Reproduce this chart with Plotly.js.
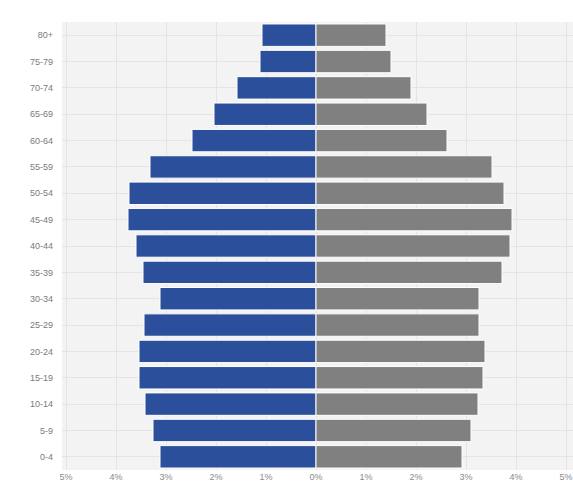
<!DOCTYPE html>
<html>
<head>
<meta charset="utf-8">
<script src="https://cdn.plot.ly/plotly-3.0.1.min.js"></script>
<style>html,body{margin:0;padding:0;background:#fff;overflow:hidden;}#chart{width:573px;height:503px;}</style>
</head>
<body>
<div id="chart"></div>
<script>
const ageGroups = ["0-4","5-9","10-14","15-19","20-24","25-29","30-34","35-39","40-44","45-49","50-54","55-59","60-64","65-69","70-74","75-79","80+"];
const leftShare = [3.12,3.26,3.42,3.54,3.54,3.44,3.12,3.46,3.6,3.76,3.74,3.32,2.48,2.04,1.58,1.12,1.08];
const rightShare = [2.92,3.1,3.24,3.34,3.38,3.26,3.26,3.72,3.88,3.92,3.76,3.52,2.62,2.22,1.9,1.5,1.4];
const tickValues = [-5,-4,-3,-2,-1,0,1,2,3,4,5];
const tickLabels = ["5%","4%","3%","2%","1%","0%","1%","2%","3%","4%","5%"];

const traces = [
  {type:'bar', orientation:'h', y:ageGroups, x:leftShare.map(v=>-v),
   marker:{color:'#2b4f9a', line:{color:'#ffffff', width:1}}, name:'left'},
  {type:'bar', orientation:'h', y:ageGroups, x:rightShare,
   marker:{color:'#808080', line:{color:'#ffffff', width:1}}, name:'right'}
];
const layout = {
  width:573, height:503,
  margin:{l:62, r:0, t:22, b:33},
  paper_bgcolor:'#ffffff', plot_bgcolor:'#f3f3f3',
  barmode:'overlay', bargap:0.15, showlegend:false,
  font:{family:'Liberation Sans, Arial, sans-serif', size:9, color:'#8a8a8a'},
  xaxis:{range:[-5.08,5.14], tickvals:tickValues, ticktext:tickLabels, ticklabeloverflow:'allow',
         showgrid:true, gridcolor:'#e4e4e4', zeroline:false, ticks:'', tickfont:{size:9,color:'#8a8a8a'}},
  yaxis:{type:'category', showgrid:true, gridcolor:'#e4e4e4', ticks:'', ticklabelstandoff:8,
         tickfont:{size:9,color:'#7a7a7a'}}
};
Plotly.newPlot('chart', traces, layout, {displayModeBar:false, staticPlot:true});
</script>
</body>
</html>
